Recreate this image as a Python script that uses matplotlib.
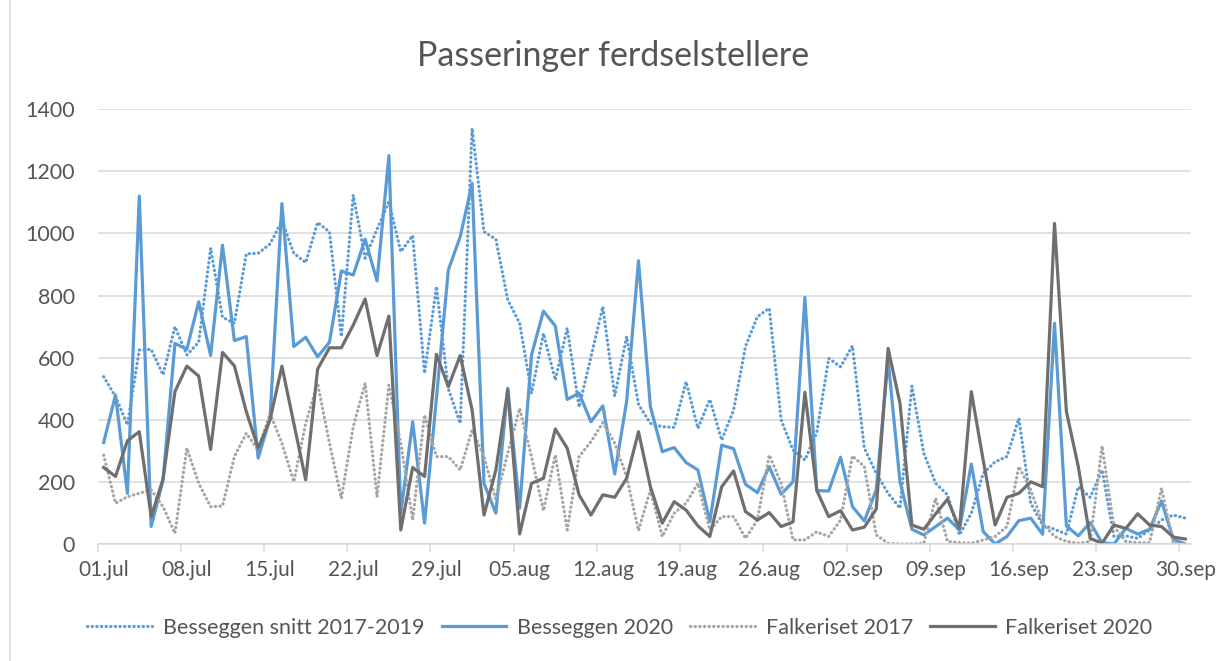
import matplotlib
matplotlib.use("Agg")
import matplotlib.pyplot as plt
import numpy as np
from matplotlib.lines import Line2D

plt.rcParams['font.family'] = ['Lato', 'DejaVu Sans']

# daily values 01.jul - 30.sep
besseggen_snitt = [539, 475, 384, 625, 627, 545, 700, 609, 650, 952, 730, 711, 934, 936, 966, 1040,
                   936, 906, 1035, 1005, 668, 1123, 920, 1013, 1102, 941, 993, 550, 829, 500, 389,
                   1338, 1005, 981, 786, 711, 486, 678, 528, 695, 441, 603, 764, 477, 668, 450,
                   389, 378, 376, 523, 373, 466, 335, 432, 636, 732, 759, 400, 303, 271, 360,
                   598, 571, 638, 309, 228, 164, 116, 509, 293, 196, 159, 30, 100, 228, 265,
                   282, 405, 132, 62, 48, 33, 185, 151, 239, 25, 27, 19, 46, 78, 94, 84]
besseggen_2020 = [327, 480, 164, 1120, 57, 207, 646, 627, 780, 607, 962, 655, 668, 277, 405, 1096,
                  636, 666, 603, 650, 879, 866, 981, 847, 1250, 100, 394, 68, 470, 882, 989,
                  1161, 196, 100, 502, 116, 609, 750, 702, 466, 486, 394, 445, 226, 459, 912,
                  443, 298, 311, 263, 239, 73, 319, 307, 193, 166, 250, 161, 201, 794, 173,
                  171, 280, 121, 75, 175, 593, 201, 48, 30, 57, 84, 46, 258, 41, 1,
                  25, 76, 84, 32, 711, 59, 27, 70, 5, 1, 51, 33, 48, 139, 16, 1]
falkeriset_2017 = [287, 132, 153, 164, 175, 121, 35, 309, 196, 121, 123, 282, 357, 303, 421, 325,
                   201, 389, 518, 325, 148, 378, 518, 153, 512, 325, 78, 416, 282, 282, 239,
                   368, 282, 143, 293, 437, 282, 108, 287, 46, 282, 330, 391, 325, 218, 44,
                   175, 25, 100, 132, 196, 46, 89, 89, 19, 78, 287, 196, 14, 14, 40,
                   25, 78, 284, 250, 30, 3, 1, 1, 3, 148, 9, 5, 3, 14, 25,
                   57, 250, 175, 68, 25, 9, 3, 9, 316, 57, 9, 5, 5, 180, 3, 1]
falkeriset_2020 = [247, 218, 333, 362, 89, 210, 491, 573, 541, 305, 617, 574, 427, 309, 400, 573,
                   389, 207, 563, 632, 632, 705, 789, 607, 734, 46, 247, 218, 611, 507, 607,
                   432, 94, 239, 496, 33, 196, 212, 371, 309, 159, 94, 159, 151, 212, 362,
                   185, 68, 137, 110, 59, 25, 185, 236, 105, 78, 102, 57, 72, 489, 173,
                   89, 108, 46, 55, 113, 630, 453, 62, 48, 98, 145, 51, 491, 270, 62,
                   151, 164, 201, 185, 1032, 427, 250, 19, 3, 62, 51, 98, 62, 57, 23, 17]
tick_labels = ["01.jul", "08.jul", "15.jul", "22.jul", "29.jul", "05.aug", "12.aug", "19.aug",
               "26.aug", "02.sep", "09.sep", "16.sep", "23.sep", "30.sep"]

blue = "#5b9bd5"
dark = "#6f6f6f"
light = "#a5a5a5"
txt = "#555555"
grid = "#d9d9d9"

x = np.arange(len(besseggen_2020))
dots = (0, (0.1, 1.35))

fig = plt.figure(figsize=(12.18, 6.61), dpi=100)
ax = fig.add_axes([0.0802, 0.1766, 0.8978, 0.6585])

ax.plot(x, besseggen_snitt, color=blue, lw=2.3, ls=dots, dash_capstyle='round',
        label="Besseggen snitt 2017-2019")
ax.plot(x, besseggen_2020, color=blue, lw=2.3, label="Besseggen 2020")
ax.plot(x, falkeriset_2017, color=light, lw=2.3, ls=dots, dash_capstyle='round',
        label="Falkeriset 2017")
ax.plot(x, falkeriset_2020, color=dark, lw=2.3, label="Falkeriset 2020")

ax.set_xlim(-0.5, len(x) - 0.5)
ax.set_ylim(0, 1400)
ax.set_yticks(np.arange(0, 1401, 200))
ax.yaxis.grid(True, color=grid, lw=1.1)
ax.set_axisbelow(True)
ax.tick_params(axis='y', length=0, pad=16.5, labelsize=15.5, labelcolor=txt)

ax.set_xticks(x[::7])
ax.set_xticklabels(tick_labels)
ax.set_xticks(x[::7] - 0.5, minor=True)
ax.tick_params(axis='x', which='major', length=0, pad=11, labelsize=15, labelcolor=txt)
ax.tick_params(axis='x', which='minor', length=6, color=grid, width=1.1)

for s in ['top', 'right', 'left']:
    ax.spines[s].set_visible(False)
ax.spines['bottom'].set_color(grid)
ax.spines['bottom'].set_linewidth(1.1)

fig.suptitle("Passeringer ferdselstellere", x=0.503, y=0.94, fontsize=24.5, color=txt)

leg = fig.legend(loc='center', bbox_to_anchor=(0.509, 0.05), ncol=4, frameon=False,
                 fontsize=15.5, handlelength=3.0, handletextpad=0.5, columnspacing=0.8)
for t in leg.get_texts():
    t.set_color(txt)

fig.add_artist(Line2D([10 / 1218, 10 / 1218], [0, 1], color=grid, lw=1.2))

fig.savefig("out.png", dpi=100)
